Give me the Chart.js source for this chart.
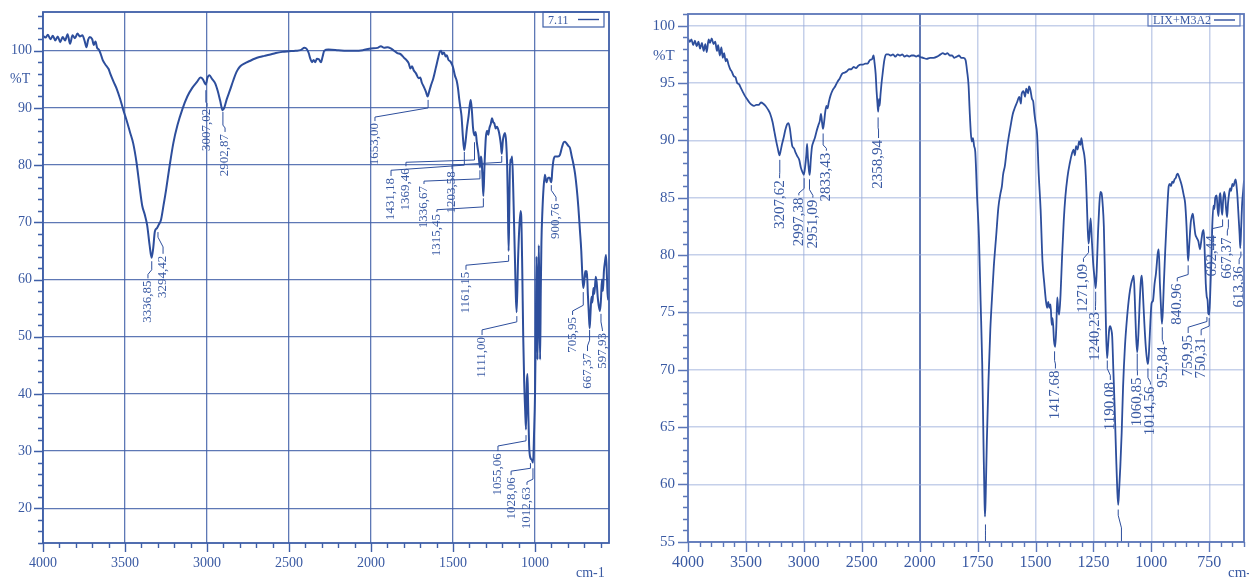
<!DOCTYPE html>
<html><head><meta charset="utf-8">
<script src="https://cdn.jsdelivr.net/npm/chart.js@4.4.1/dist/chart.umd.min.js"></script>
<style>
html,body{margin:0;padding:0;background:#fff;}
#wrap{position:relative;width:1249px;height:577px;overflow:hidden;background:#fff;}
#c1{position:absolute;left:0;top:0;width:625px;height:577px;}
#c2{position:absolute;left:625px;top:0;width:624px;height:577px;}
</style></head><body>
<div id="wrap">
<canvas id="c1" width="625" height="577"></canvas>
<canvas id="c2" width="624" height="577"></canvas>
</div>
<script>
// ---------- DATA ----------
const leftSeriesName = '7.11';
const rightSeriesName = 'LIX+M3A2';

const leftWavenumbers = [4000,3985,3970,3955,3940,3925,3910,3895,3880,3865,3850,3835,3820,3805,3790,3775,3760,3745,3735,3725,3715,3700,3690,3680,3670,3660,3650,3635,3620,3600,3590,3570,3550,3530,3510,3490,3470,3450,3430,3410,3395,3380,3365,3350,3338,3328,3318,3305,3294,3280,3265,3250,3230,3205,3180,3150,3120,3090,3060,3040,3025,3015,3007,2998,2985,2970,2950,2935,2920,2905,2895,2880,2860,2840,2820,2800,2770,2740,2710,2680,2650,2620,2580,2540,2500,2460,2430,2405,2392,2380,2370,2360,2350,2340,2330,2318,2305,2295,2285,2260,2200,2150,2100,2050,2000,1960,1940,1920,1900,1880,1860,1840,1820,1800,1785,1770,1760,1750,1740,1725,1710,1700,1690,1680,1665,1655,1645,1635,1620,1605,1590,1580,1572,1565,1555,1545,1538,1528,1515,1500,1488,1478,1470,1462,1455,1448,1440,1432,1425,1415,1405,1398,1392,1385,1378,1370,1362,1355,1345,1336,1330,1325,1320,1315,1308,1300,1292,1285,1278,1270,1262,1255,1248,1240,1232,1222,1215,1208,1203,1196,1190,1183,1176,1170,1166,1161,1157,1152,1146,1140,1134,1128,1122,1117,1112,1104,1096,1088,1084,1078,1072,1066,1060,1055,1050,1046,1042,1036,1028,1020,1012,1006,1000,995,991,988,985,981,977,973,969,965,961,955,948,940,930,920,910,905,900,895,888,878,860,848,835,825,817,808,798,787,776,766,756,746,736,726,718,712,706,700,694,688,684,678,672,667,662,656,650,644,638,630,624,618,612,604,598,592,586,580,574,567,561,556,549];
const leftTransmittance = [102.6,102.3,102.8,102.0,102.6,101.8,102.5,101.5,102.4,101.8,102.9,101.2,102.7,102.2,103.0,102.5,102.7,101.6,100.6,101.9,102.4,102.0,101.0,101.6,100.5,100.2,99.6,98.3,97.6,96.8,96.0,94.6,93.3,91.6,89.6,87.8,85.8,83.8,80.5,76.0,72.9,71.4,69.5,66.0,63.8,65.5,68.4,69.0,69.6,70.5,73.0,75.6,79.5,83.9,87.0,89.8,92.0,93.5,94.6,95.3,95.0,94.4,94.1,95.2,95.7,95.1,94.3,93.0,91.3,89.6,90.0,91.5,93.1,94.8,96.3,97.2,97.8,98.2,98.6,98.9,99.1,99.3,99.6,99.8,99.9,100.0,100.1,100.5,100.3,99.6,98.6,98.0,98.4,98.0,98.6,98.5,98.0,99.0,100.0,100.2,100.1,100.0,100.0,100.1,100.4,100.5,100.8,100.5,100.6,100.4,100.0,99.6,99.4,98.8,98.4,97.8,96.9,97.3,96.6,96.0,95.2,95.3,94.4,93.8,92.8,92.0,92.9,93.9,95.2,97.0,98.8,99.9,100.0,99.4,99.7,99.0,99.2,98.4,98.1,97.1,95.6,94.8,93.5,91.5,90.0,88.5,85.0,82.6,83.8,86.5,88.6,90.5,91.4,89.5,86.5,85.2,85.8,84.0,82.0,79.6,81.5,80.6,77.5,74.6,80.0,84.8,86.0,85.3,86.5,87.2,88.2,87.5,87.3,86.4,86.7,86.0,85.0,83.5,82.0,84.3,85.2,85.6,84.0,80.0,74.0,65.0,72.0,81.0,80.5,81.5,77.0,70.0,63.0,57.0,54.3,63.0,69.0,72.0,71.0,62.0,50.0,42.0,37.0,33.8,42.0,43.5,38.0,31.0,28.8,28.5,28.0,33.0,40.0,52.0,64.0,56.0,46.0,55.0,66.0,56.0,46.0,58.0,66.5,72.0,76.0,78.3,77.0,77.8,77.8,77.2,77.0,79.0,80.8,81.5,81.5,81.8,83.2,84.0,84.1,83.8,83.4,83.0,81.5,80.2,78.5,76.0,72.7,68.5,65.0,61.0,58.5,59.5,61.5,60.5,61.5,57.5,54.0,51.5,54.0,57.0,56.0,58.5,57.5,60.5,59.5,57.0,55.5,54.5,56.5,60.0,58.0,61.5,63.0,64.3,60.0,56.5,57.0];

const rightWavenumbers = [4000,3985,3970,3955,3940,3925,3910,3896,3880,3865,3850,3838,3822,3810,3795,3780,3765,3750,3740,3725,3712,3700,3688,3675,3665,3650,3635,3622,3605,3590,3575,3560,3545,3530,3510,3490,3470,3450,3430,3410,3390,3370,3350,3330,3310,3290,3270,3255,3240,3225,3210,3200,3190,3175,3160,3145,3132,3120,3110,3100,3085,3070,3055,3040,3025,3010,3000,2990,2978,2972,2965,2955,2949,2940,2930,2920,2905,2890,2875,2862,2852,2843,2835,2825,2815,2805,2795,2785,2770,2750,2730,2710,2690,2670,2650,2630,2610,2590,2570,2550,2530,2510,2490,2470,2450,2430,2410,2398,2390,2380,2372,2365,2358,2352,2346,2338,2330,2320,2305,2290,2270,2250,2230,2210,2190,2170,2150,2130,2110,2090,2070,2050,2030,2010,2000,1985,1970,1955,1940,1925,1910,1900,1890,1880,1870,1860,1850,1840,1830,1820,1810,1802,1795,1789,1784,1779,1775,1770,1765,1760,1752,1744,1737,1730,1724,1720,1718,1715,1710,1703,1695,1688,1680,1670,1660,1651,1645,1640,1632,1625,1618,1608,1598,1590,1580,1570,1563,1560,1552,1545,1540,1532,1528,1522,1515,1510,1505,1500,1493,1486,1478,1470,1462,1455,1450,1445,1440,1435,1430,1426,1420,1415,1410,1406,1402,1398,1392,1385,1378,1371,1362,1352,1342,1336,1330,1325,1318,1312,1306,1302,1296,1290,1285,1280,1275,1271,1267,1262,1256,1250,1245,1240,1236,1230,1225,1220,1215,1210,1205,1200,1195,1191,1187,1182,1178,1173,1169,1164,1158,1152,1147,1143,1139,1134,1128,1122,1114,1105,1095,1087,1080,1076,1072,1066,1061,1056,1050,1045,1041,1036,1030,1024,1018,1014,1009,1004,999,993,986,980,972,968,963,958,954,950,946,940,935,930,925,920,915,910,905,900,895,890,886,880,875,868,860,854,848,844,841,836,830,825,821,816,810,804,797,790,784,779,774,770,765,761,757,754,750,746,741,737,732,728,724,718,714,710,706,702,698,694,690,685,681,678,673,669,664,660,656,650,645,640,636,632,628,623,619,616,612,608,604,600];
const rightTransmittance = [98.9,98.6,98.8,98.3,98.7,98.2,98.6,98.0,98.5,97.8,98.4,97.7,98.8,98.5,98.9,98.4,98.6,97.8,98.3,97.4,98.1,97.2,97.6,96.9,97.1,96.6,96.2,96.0,95.6,95.5,95.0,94.9,94.6,94.3,93.9,93.6,93.3,93.1,93.0,93.1,93.1,93.3,93.2,93.0,92.7,92.3,91.6,90.8,90.0,89.3,88.7,89.1,89.6,90.2,90.9,91.4,91.5,91.0,90.2,89.5,89.3,88.9,88.6,88.3,87.6,87.2,87.0,87.6,88.8,89.7,88.5,87.3,87.0,88.3,89.4,89.8,90.2,90.8,91.3,91.7,92.3,91.6,91.0,91.6,92.5,93.0,92.8,93.3,93.9,94.4,94.7,95.1,95.4,95.8,95.9,96.0,96.2,96.2,96.4,96.3,96.5,96.6,96.6,96.7,96.7,97.0,97.1,97.4,96.8,95.8,94.3,93.3,92.5,93.6,93.0,94.0,94.9,95.8,97.0,97.5,97.5,97.4,97.5,97.3,97.5,97.4,97.5,97.3,97.4,97.3,97.4,97.4,97.3,97.4,97.3,97.2,97.1,97.2,97.2,97.3,97.5,97.6,97.5,97.6,97.4,97.4,97.2,97.3,97.4,97.2,97.2,97.0,96.0,94.8,92.5,90.6,89.9,90.2,89.5,89.0,85.0,81.5,76.0,70.5,63.0,58.5,57.2,59.0,63.8,69.0,73.5,76.2,79.0,81.6,84.2,85.4,86.0,87.0,87.8,89.0,90.0,91.2,92.3,92.8,93.3,93.8,93.2,94.0,94.3,93.8,94.5,94.1,94.7,94.4,93.6,93.4,92.4,91.6,90.5,87.0,84.0,79.5,77.5,76.0,75.4,75.9,75.4,75.7,73.9,74.5,72.5,72.0,73.8,76.3,75.3,74.8,76.5,80.0,83.0,85.1,86.8,88.0,88.9,89.2,88.7,89.5,89.2,89.9,89.6,90.2,89.4,88.8,87.8,85.5,82.5,81.0,81.8,83.2,81.0,79.0,78.0,77.1,78.5,82.0,84.2,85.5,85.4,84.4,82.5,78.0,73.0,71.0,72.0,73.5,73.8,73.5,72.9,70.0,66.5,62.5,59.5,58.2,59.5,61.5,64.5,68.5,72.0,74.5,76.5,77.5,78.0,78.2,76.5,73.0,71.5,73.0,76.0,77.8,78.2,76.5,74.0,72.0,70.8,70.5,72.0,74.2,75.8,76.0,77.5,78.4,80.2,80.5,77.5,75.3,74.0,75.2,77.5,80.4,82.5,84.5,86.0,86.2,86.0,86.4,86.3,86.6,86.7,87.0,87.1,86.8,86.5,86.0,85.2,84.5,82.5,80.5,79.5,81.0,82.8,83.4,83.6,82.8,81.8,81.5,81.2,80.5,81.3,82.0,82.2,80.5,77.5,76.4,76.0,74.9,74.8,76.5,79.5,82.5,84.3,84.0,85.0,85.2,84.0,83.4,85.0,85.4,84.2,83.5,84.8,85.5,85.0,84.2,83.3,84.5,85.4,85.8,85.6,86.2,86.0,86.4,86.6,86.0,85.0,83.2,81.8,80.6,82.5,84.5,85.5,86.5];

// axis tick values
const leftXTicks = [4000,3500,3000,2500,2000,1500,1000];
const leftYTicks = [20,30,40,50,60,70,80,90,100];
const rightXTicks = [4000,3500,3000,2500,2000,1750,1500,1250,1000,750];
const rightYTicks = [55,60,65,70,75,80,85,90,95,100];

// peak annotations: [label, peak cm-1, leader start %T, knee %T, label column cm-1, knee2 %T, label top %T]
const leftPeaks = [
 ['3336,85',3337,63.2,61.7,3360,60.9,60.2],
 ['3294,42',3299,68.3,67.4,3268,65.7,64.5],
 ['3007,02',3007,93.1,91.0,3000,90.8,90.2],
 ['2902,87',2903,89.3,87.0,2890,86.5,85.8],
 ['1653,00',1652,91.4,90.0,1976,88.4,87.7],
 ['1431,18',1431,82.3,80.0,1878,79.1,78.1],
 ['1369,46',1369,84.0,80.9,1787,80.5,79.8],
 ['1336,67',1336,79.1,77.6,1677,77.2,76.7],
 ['1315,45',1315,74.2,72.7,1598,72.2,71.8],
 ['1203,58',1203,81.6,80.5,1506,80.0,79.3],
 ['1161,15',1161,64.3,63.2,1421,62.5,61.7],
 ['1111,00',1111,53.6,52.6,1323,51.2,50.3],
 ['1055,06',1055,32.8,31.8,1226,30.9,30.0],
 ['1028,06',1028,27.9,27.0,1146,26.5,25.8],
 ['1012,63',1012.6,27.0,25.1,1049,24.6,24.1],
 ['900,76',900.8,76.5,75.6,872,74.4,73.7],
 ['705,95',706,57.8,55.5,771,54.5,53.8],
 ['667,37',667.4,51.2,49.4,680,48.4,47.5],
 ['597,93',597.9,54.0,52.6,589,51.2,51.0]
];
const rightPeaks = [
 ['3207,62',3207.6,88.3,87.2,3209,87.0,86.7],
 ['2997,38',2997.4,86.7,85.8,3043,85.4,85.2],
 ['2951,09',2951.1,86.6,85.7,2922,85.2,85.0],
 ['2833,43',2833.4,90.6,89.6,2805,89.3,89.1],
 ['2358,94',2358.9,92.0,91.1,2355,90.9,90.2],
 ['1417.68',1417.7,71.6,70.8,1414,70.5,70.1],
 ['1271,09',1271.1,80.8,80.2,1293,79.7,79.4],
 ['1240,23',1240.2,76.8,76.0,1241,75.5,75.2],
 ['1190.08',1190.1,70.8,70.1,1177,69.5,69.1],
 ['1060,85',1060.9,71.4,70.0,1060,69.8,69.5],
 ['1014,56',1014.6,70.1,69.3,1004,68.9,68.7],
 ['952,84',952.8,73.7,72.6,948,72.4,72.2],
 ['840.96',841.0,79.1,78.3,888,78.0,77.7],
 ['759,95',760.0,74.6,74.2,841,73.7,73.2],
 ['750,31',750.3,74.5,73.8,785,73.5,73.0],
 ['692,44',692.4,83.1,82.5,737,82.3,81.9],
 ['667,37',667.4,83.1,82.4,672,82.1,81.7],
 ['613,36',613.4,80.3,79.9,621,79.6,79.2],
 ['',1716,56.5,56.0,1716,55.5,54.9],
 ['',1143,57.8,57.3,1129,56.2,54.9]
];

// ---------- STYLE ----------
const FONT = "'Liberation Serif','Times New Roman',serif";
const lineColor = '#2d4e9c';
const textColor = '#3a5aa3';

// scale with expanded region below 2000 cm-1 (x2), used in the right chart
const BREAK_AT = 2000, EXPAND = 2;
class BrokenLinearScale extends Chart.LinearScale {
  _u(v){ return v >= BREAK_AT ? (this.max - v) : (this.max - BREAK_AT) + EXPAND * (BREAK_AT - v); }
  getPixelForValue(v){ return this.left + this._u(v) / this._u(this.min) * this.width; }
  getValueForPixel(p){
    const u = (p - this.left) / this.width * this._u(this.min);
    const ub = this.max - BREAK_AT;
    return u <= ub ? this.max - u : BREAK_AT - (u - ub) / EXPAND;
  }
}
BrokenLinearScale.id = 'brokenLinear';
BrokenLinearScale.defaults = Chart.LinearScale.defaults;
Chart.register(BrokenLinearScale);

function fixSize(prop, size){
  return s => { s[prop] = size; s.paddingTop = 0; s.paddingBottom = 0; s.paddingLeft = 0; s.paddingRight = 0; };
}

function drawPeaks(ctx, xs, ys, list, fontSize){
  ctx.strokeStyle = lineColor; ctx.lineWidth = 1; ctx.fillStyle = textColor;
  ctx.font = fontSize + 'px ' + FONT;
  list.forEach(([t,pw,pt,kt,tw,k2t,tt]) => {
    const px = xs.getPixelForValue(pw), tx = xs.getPixelForValue(tw);
    ctx.beginPath();
    ctx.moveTo(px, ys.getPixelForValue(pt));
    ctx.lineTo(px, ys.getPixelForValue(kt));
    ctx.lineTo(tx, ys.getPixelForValue(k2t));
    ctx.lineTo(tx, ys.getPixelForValue(tt));
    ctx.stroke();
    if (t) {
      ctx.save();
      ctx.translate(tx, ys.getPixelForValue(tt) + 2);
      ctx.rotate(-Math.PI/2);
      ctx.textAlign = 'right'; ctx.textBaseline = 'middle';
      ctx.fillText(t, 0, 0);
      ctx.restore();
    }
  });
}

function decoPlugin(o){
  return {
    id: 'deco',
    afterDatasetsDraw(chart){
      const ctx = chart.ctx, a = chart.chartArea;
      ctx.save();
      ctx.beginPath(); ctx.rect(a.left, a.top, a.right - a.left + 3, a.bottom - a.top); ctx.clip();
      drawPeaks(ctx, chart.scales.x, chart.scales.y, o.peaks, o.peakFont);
      ctx.restore();
    },
    afterDraw(chart){
      const ctx = chart.ctx, a = chart.chartArea, xs = chart.scales.x, ys = chart.scales.y;
      ctx.save();
      ctx.strokeStyle = o.borderColor; ctx.lineWidth = o.borderWidth;
      ctx.strokeRect(a.left, a.top, a.right - a.left, a.bottom - a.top);
      ctx.lineWidth = 1.4;
      ctx.beginPath();
      o.xMinor.forEach(v => {
        if (v < xs.min || v > xs.max) return;
        const x = Math.round(xs.getPixelForValue(v)) + 0.5;
        const len = o.xMajor.includes(v) ? o.majorLen : o.minorLen;
        ctx.moveTo(x, a.bottom); ctx.lineTo(x, a.bottom + len);
      });
      o.yMinor.forEach(v => {
        if (v < ys.min || v > ys.max) return;
        const y = Math.round(ys.getPixelForValue(v)) + 0.5;
        const len = o.yMajor.includes(v) ? o.majorLen : o.minorLen;
        ctx.moveTo(a.left, y); ctx.lineTo(a.left - len, y);
      });
      ctx.stroke();
      // legend box
      const L = o.legend;
      ctx.strokeStyle = o.borderColor; ctx.lineWidth = 1.2;
      ctx.strokeRect(a.right - L.right, a.top, L.w, L.h);
      ctx.fillStyle = textColor; ctx.font = L.size + 'px ' + FONT;
      ctx.textBaseline = 'middle'; ctx.textAlign = 'left';
      ctx.fillText(o.name, a.right - L.right + 5, a.top + L.h/2 + 1);
      ctx.strokeStyle = lineColor; ctx.lineWidth = 1.4;
      ctx.beginPath();
      ctx.moveTo(a.right - L.right + L.w - 26, a.top + L.h/2);
      ctx.lineTo(a.right - L.right + L.w - 5, a.top + L.h/2);
      ctx.stroke();
      // axis titles
      ctx.fillStyle = textColor; ctx.font = o.titleSize + 'px ' + FONT;
      ctx.textAlign = 'left'; ctx.textBaseline = 'alphabetic';
      ctx.fillText('%T', o.tX, o.tY);
      ctx.fillText('cm-1', o.cX, o.cY);
      ctx.restore();
    }
  };
}

function range(from, to, step){ const r=[]; const n=Math.round((to-from)/step); for(let i=0;i<=n;i++) r.push(Math.round((from+i*step)*100)/100); return r; }

// ---------- LEFT CHART ----------
new Chart(document.getElementById('c1'), {
  type: 'line',
  data: { datasets: [{
    label: leftSeriesName,
    data: leftWavenumbers.map((w,i) => ({x:w, y:leftTransmittance[i]})),
    borderColor: lineColor, borderWidth: 2, pointRadius: 0,
    cubicInterpolationMode: 'monotone', fill: false
  }]},
  options: {
    responsive: false, animation: false, events: [],
    layout: { padding: { left: 0, top: 12, right: 16, bottom: 0 } },
    plugins: { legend: {display:false}, tooltip: {enabled:false} },
    scales: {
      x: { type:'linear', reverse:true, min:549, max:4000,
        afterBuildTicks: s => { s.ticks = leftXTicks.map(v => ({value:v})); },
        afterFit: fixSize('height', 34),
        grid: { color:'rgba(66,96,168,0.85)', lineWidth:1.3, drawTicks:false },
        border: { display:false },
        ticks: { autoSkip:false, maxRotation:0, padding:12, color:textColor, font:{family:FONT, size:14}, callback: v => String(v) } },
      y: { type:'linear', min:13.94, max:106.77,
        afterBuildTicks: s => { s.ticks = leftYTicks.map(v => ({value:v})); },
        afterFit: fixSize('width', 43),
        grid: { color:'rgba(66,96,168,0.85)', lineWidth:1.3, drawTicks:false },
        border: { display:false },
        ticks: { padding:11, color:textColor, font:{family:FONT, size:14}, callback: v => String(v) } }
    }
  },
  plugins: [decoPlugin({
    name: leftSeriesName, peaks: leftPeaks, peakFont: 13,
    borderColor:'#3f5fa8', borderWidth:1.8,
    xMinor: range(600, 4000, 100), xMajor: leftXTicks,
    yMinor: range(14, 106, 2), yMajor: leftYTicks,
    majorLen: 9, minorLen: 5,
    legend: { right: 66, w: 61, h: 15, size: 12 },
    titleSize: 14, tX: 10, tY: 83, cX: 576, cY: 577
  })]
});

// ---------- RIGHT CHART ----------
new Chart(document.getElementById('c2'), {
  type: 'line',
  data: { datasets: [{
    label: rightSeriesName,
    data: rightWavenumbers.map((w,i) => ({x:w, y:rightTransmittance[i]})),
    borderColor: lineColor, borderWidth: 1.8, pointRadius: 0,
    cubicInterpolationMode: 'monotone', fill: false
  }]},
  options: {
    responsive: false, animation: false, events: [],
    layout: { padding: { left: 0, top: 14, right: 5, bottom: 0 } },
    plugins: { legend: {display:false}, tooltip: {enabled:false} },
    scales: {
      x: { type:'brokenLinear', min:600, max:4000,
        afterBuildTicks: s => { s.ticks = rightXTicks.map(v => ({value:v})); },
        afterFit: fixSize('height', 35),
        grid: { color: c => (c.tick && c.tick.value === 2000) ? 'rgba(80,106,172,0.9)' : 'rgba(150,170,216,0.55)',
                lineWidth: c => (c.tick && c.tick.value === 2000) ? 2 : 1.5, drawTicks:false },
        border: { display:false },
        ticks: { autoSkip:false, maxRotation:0, padding:11, color:textColor, font:{family:FONT, size:16}, callback: v => String(v) } },
      y: { type:'linear', min:54.97, max:101.02,
        afterBuildTicks: s => { s.ticks = rightYTicks.map(v => ({value:v})); },
        afterFit: fixSize('width', 63),
        grid: { color:'rgba(150,170,216,0.55)', lineWidth:1.5, drawTicks:false },
        border: { display:false },
        ticks: { padding:13, color:textColor, font:{family:FONT, size:15}, callback: v => String(v) } }
    }
  },
  plugins: [decoPlugin({
    name: rightSeriesName, peaks: rightPeaks, peakFont: 15,
    borderColor:'#5c77b9', borderWidth:1.8,
    xMinor: range(2000, 4000, 100).concat(range(600, 1950, 50)), xMajor: rightXTicks,
    yMinor: range(55, 101, 1), yMajor: rightYTicks,
    majorLen: 10, minorLen: 5,
    legend: { right: 96, w: 92, h: 12, size: 12 },
    titleSize: 15, tX: 28, tY: 60, cX: 603, cY: 577
  })]
});
</script>
</body></html>
